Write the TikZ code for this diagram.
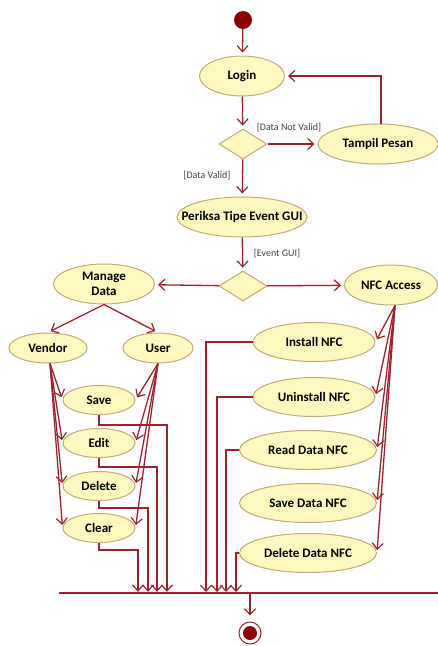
\documentclass[tikz,border=0pt]{standalone}
\usepackage{fontspec}
\setmainfont{Carlito}
\usetikzlibrary{arrows.meta,shapes.geometric,calc}
\definecolor{ln}{RGB}{155,35,45}
\definecolor{fl}{RGB}{255,249,192}
\definecolor{bd}{RGB}{196,168,118}
\definecolor{dot}{RGB}{140,0,0}
\begin{document}
\begin{tikzpicture}[x=1pt,y=-1pt,
  act/.style={ellipse,draw=bd,fill=fl,line width=1pt,inner sep=0pt},
  txt/.style={font=\bfseries\fontsize{13}{15}\selectfont,align=center,inner sep=0pt},
  dec/.style={diamond,draw=bd,fill=fl,line width=1pt,inner sep=0pt,minimum width=48pt,minimum height=30pt},
  flow/.style={draw=ln,line width=1.3pt,-{Straight Barb[length=6pt,width=11pt,line width=1.2pt]},shorten >=3pt},
  flowz/.style={draw=ln,line width=1.3pt,-{Straight Barb[length=6pt,width=11pt,line width=1.2pt]}},
  lbl/.style={font=\fontsize{10}{11}\selectfont,text=black!75,inner sep=0pt}
]
\useasboundingbox (0,0) rectangle (438,646);

% nodes
\node[circle,fill=dot,minimum size=18pt,inner sep=0pt] (start) at (243,20) {};
\node[act,minimum width=85pt,minimum height=40pt,label={[txt]center:Login}] (login) at (242,76) {};
\node[dec] (d1) at (243,144) {};
\node[act,minimum width=120pt,minimum height=40pt,label={[txt]center:Tampil Pesan}] (tampil) at (378,144) {};
\node[act,minimum width=130pt,minimum height=40pt,label={[txt]center:Periksa Tipe Event GUI}] (periksa) at (242,217) {};
\node[dec] (d2) at (243,286) {};
\node[act,minimum width=93pt,minimum height=40pt,label={[txt]center:NFC Access}] (nfc) at (391,285) {};
\node[act,minimum width=101pt,minimum height=40pt,label={[txt]center:{Manage\\Data}}] (manage) at (104,284) {};
\node[act,minimum width=78pt,minimum height=30pt,label={[txt]center:Vendor}] (vendor) at (48,348) {};
\node[act,minimum width=70pt,minimum height=30pt,label={[txt]center:User}] (user) at (158,348) {};
\node[act,minimum width=72pt,minimum height=29pt,label={[txt]center:Save}] (save) at (99,400) {};
\node[act,minimum width=72pt,minimum height=29pt,label={[txt]center:Edit}] (edit) at (99,443) {};
\node[act,minimum width=72pt,minimum height=29pt,label={[txt]center:Delete}] (delete) at (99,486) {};
\node[act,minimum width=72pt,minimum height=29pt,label={[txt]center:Clear}] (clear) at (99,528) {};
\node[act,minimum width=122pt,minimum height=39pt,label={[txt]center:Install NFC}] (install) at (314,342) {};
\node[act,minimum width=122pt,minimum height=39pt,label={[txt]center:Uninstall NFC}] (uninstall) at (314,397) {};
\node[act,minimum width=137pt,minimum height=39pt,label={[txt]center:Read Data NFC}] (readd) at (308,450) {};
\node[act,minimum width=137pt,minimum height=39pt,label={[txt]center:Save Data NFC}] (saved) at (308,503) {};
\node[act,minimum width=137pt,minimum height=39pt,label={[txt]center:Delete Data NFC}] (deleted) at (308,553) {};
\node[fill=ln,minimum width=379pt,minimum height=2pt,inner sep=0pt] (bar) at (248.5,593) {};
\node[circle,draw=ln,fill=white,line width=1pt,minimum size=22pt,inner sep=0pt] (endc) at (250,633) {};
\fill[dot] (endc.center) circle (7pt);

% guard labels
\node[lbl] (g1) at (289,128) {[Data Not Valid]};
\node[lbl] (g2) at (207,176) {[Data Valid]};
\node[lbl] (g3) at (277,254) {[Event GUI]};

% main flow
\draw[flow] (start) -- (login);
\draw[flow] (login) -- (d1);
\draw[flow] (d1) -- (tampil);
\draw[flow] ($(tampil.north)+(3,0)$) |- (login.east);
\draw[flow] (d1) -- (periksa);
\draw[flow] (periksa) -- (d2);
\draw[flow] (d2) -- (nfc);
\draw[flow] (d2) -- (manage);
\draw[flow] (manage.south) -- (vendor.north);
\draw[flow] (manage.south) -- (user.north);

\foreach \t in {save,edit,delete,clear}{
  \draw[flow] ($(vendor.south)+(2,0)$) -- (\t.west);
  \draw[flow] (user.south) -- (\t.east);
}
\foreach \t in {install,uninstall,readd,saved,deleted}{
  \draw[flow] ($(nfc.south)+(4,0)$) -- (\t.east);
}

% to join bar
\coordinate (k1) at (167,425);
\coordinate (k2) at (157,467);
\coordinate (k3) at (148,508);
\coordinate (k4) at (138,550);
\draw[flowz] (save.south) |- (k1) -- (k1 |- bar.north);
\draw[flowz] (edit.south) |- (k2) -- (k2 |- bar.north);
\draw[flowz] (delete.south) |- (k3) -- (k3 |- bar.north);
\draw[flowz] (clear.south) |- (k4) -- (k4 |- bar.north);

\coordinate (r1) at (206,592);
\coordinate (r2) at (217,592);
\coordinate (r3) at (226,592);
\coordinate (r4) at (236,592);
\draw[flowz] (install.west) -| (r1);
\draw[flowz] (uninstall.west) -| (r2);
\draw[flowz] (readd.west) -| (r3);
\draw[flowz] (deleted.west) -| (r4);

\draw[flow,shorten >=6pt] (bar.south -| endc) -- (endc);
\end{tikzpicture}
\end{document}
